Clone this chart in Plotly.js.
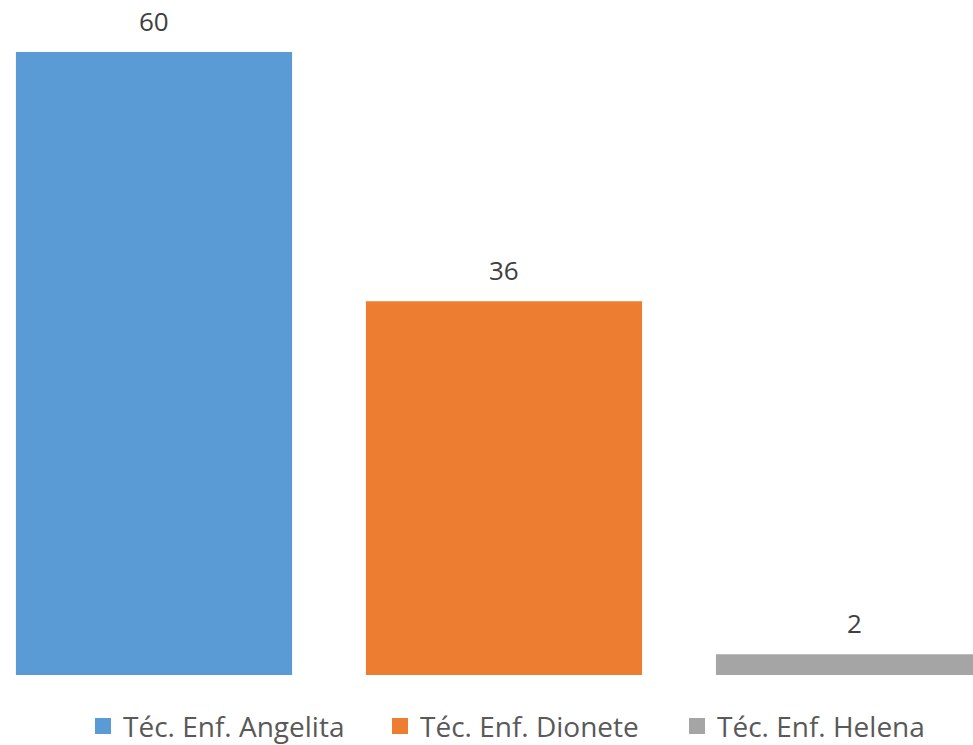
<!DOCTYPE html>
<html>
<head>
<meta charset="utf-8">
<script src="https://cdn.plot.ly/plotly-3.0.1.min.js"></script>
<style>html,body{margin:0;padding:0;background:#fff;}#chart{width:973px;height:745px;}</style>
</head>
<body>
<div id="chart"></div>
<script>
const names = ["Téc. Enf. Angelita", "Téc. Enf. Dionete", "Téc. Enf. Helena"];
const values = [60, 36, 2];
const colors = ["#5b9bd5", "#ed7d31", "#a5a5a5"];

const font = "'Open Sans', 'Liberation Sans', sans-serif";
const traces = [];
names.forEach((n, i) => {
  traces.push({
    type: "bar", x: [n], y: [values[i]], name: n,
    marker: {color: colors[i]}, width: 0.789, showlegend: false,
    hoverinfo: "skip"
  });
});
names.forEach((n, i) => {
  traces.push({
    type: "scatter", mode: "markers", x: [null], y: [null], name: n,
    marker: {color: colors[i], symbol: "square", size: 18, line: {width: 0}},
    showlegend: true, hoverinfo: "skip"
  });
});

const annotations = names.map((n, i) => ({
  x: n, y: values[i], xref: "x", yref: "y", text: String(values[i]),
  showarrow: false, yanchor: "bottom", yshift: 11,
  font: {family: font, size: 26, color: "#404040"}
}));

const layout = {
  width: 973, height: 745,
  margin: {l: 0, r: 0, t: 0, b: 70, pad: 0, autoexpand: false},
  paper_bgcolor: "#ffffff", plot_bgcolor: "#ffffff",
  barmode: "overlay",
  xaxis: {type: "category", categoryarray: names, range: [-0.44, 2.34], showticklabels: false,
          showgrid: false, zeroline: false, showline: false, ticks: ""},
  yaxis: {range: [0, 65], showticklabels: false, showgrid: false, zeroline: false, showline: false, ticks: ""},
  showlegend: true,
  legend: {orientation: "h", x: 83 / 973, xanchor: "left", y: -0.113, yanchor: "bottom",
           font: {family: font, size: 28, color: "#595959"}, itemwidth: 30, tracegroupgap: 0,
           entrywidth: 252, entrywidthmode: "pixels"},
  annotations: annotations
};
Plotly.newPlot("chart", traces, layout, {displayModeBar: false, staticPlot: true});
</script>
</body>
</html>
